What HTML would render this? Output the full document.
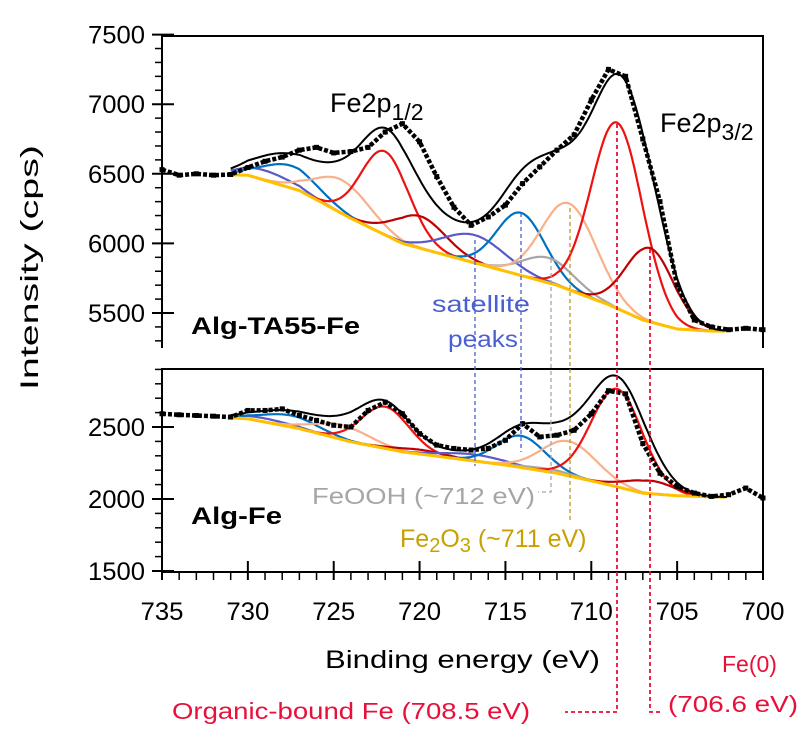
<!DOCTYPE html>
<html><head><meta charset="utf-8"><style>
html,body{margin:0;padding:0;background:#fff}
svg{display:block;font-family:"Liberation Sans",sans-serif}
</style></head><body>
<svg id="chart" width="807" height="744" viewBox="0 0 807 744" xmlns="http://www.w3.org/2000/svg"></svg>
<script>
// ---------- data ----------
const xTicks = [735,730,725,720,715,710,705,700];
const topYTicks = [5500,6000,6500,7000,7500];
const botYTicks = [1500,2000,2500];
const energies = [735,734,733,732,731,730,729,728,727,726,725,724,723,722,721,720,719,718,717,716,715,714,713,712,711,710,709,708,707,706,705,704,703,702,701,700];
const topData = [6530,6490,6500,6490,6495,6545,6590,6620,6670,6690,6650,6660,6690,6800,6860,6730,6480,6260,6130,6190,6275,6430,6550,6670,6780,7030,7250,7200,6750,6300,5700,5450,5400,5380,5390,5380];
const botData = [2592,2585,2580,2575,2569,2615,2615,2626,2580,2546,2512,2500,2615,2672,2592,2454,2374,2351,2340,2351,2408,2523,2431,2443,2477,2592,2752,2730,2385,2179,2087,2041,2018,2030,2076,2007];
const bgE = [735,730,727,724,721,718,715,712,709,707,705,703,700];
const topBg = [6500,6490,6380,6180,6000,5900,5800,5700,5560,5450,5385,5370,5370];
const botBg = [2590,2557,2489,2397,2328,2282,2236,2179,2099,2041,2023,2015,2007];
const compNames = ["sat-729","blue-727","peach-724","red-722","darkred-720","sat-716","blue-714","gray-712","peach-711","red-708","darkred-706"];
const compColors = ["#5a5ac8","#0070c0","#f8b08a","#ee1111","#c00000","#5a5ac8","#0070c0","#a6a6a6","#f8b08a","#ee1111","#c00000"];
const compCenters = [729,727.5,724.5,722,720,716.8,714.1,712.5,711.3,708.5,706.6];
const compSigmas = [1.6,1.6,1.6,1.4,1.5,1.8,1.4,1.5,1.6,1.5,1.4];
const topAmps = [70,160,240,600,230,200,450,180,620,1335,530];
const botAmps = [25,80,100,290,30,45,220,20,240,680,90];

const X0=162, X1=763;
const xs = e => X0 + (735-e)*(X1-X0)/35;
const topY = v => 313 - (v-5500)*(69.6/500);
const botY = v => 499 - (v-2000)*(72/500);
const svg = document.getElementById('chart');
const NS='http://www.w3.org/2000/svg';
function mk(tag, attrs, parent){const el=document.createElementNS(NS,tag);for(const k in attrs)el.setAttribute(k,attrs[k]);(parent||svg).appendChild(el);return el;}
function bgAt(bgVals,e){for(let i=0;i<bgE.length-1;i++){if(e<=bgE[i]&&e>=bgE[i+1]){const t=(bgE[i]-e)/(bgE[i]-bgE[i+1]);return bgVals[i]+t*(bgVals[i+1]-bgVals[i]);}}return bgVals[bgVals.length-1];}
function gauss(a,c,s,e){return a*Math.exp(-((e-c)*(e-c))/(2*s*s));}

function panel(bgVals, amps, data, Y, name, startE){
  const g = mk('g',{});
  
  
  for(let k=0;k<compCenters.length;k++){
    let d='';
    for(let e=startE;e>=703;e-=0.1){
      const v=bgAt(bgVals,e)+gauss(amps[k],compCenters[k],compSigmas[k],e);
      d+=(d?'L':'M')+xs(e).toFixed(1)+' '+Y(v).toFixed(1);
    }
    const p=mk('path',{d:d,fill:'none',stroke:compColors[k],'stroke-width':2.2},g);
    
    
  }
  let bd='';
  for(let e=731;e>=702;e-=0.2){bd+=(bd?'L':'M')+xs(e).toFixed(1)+' '+Y(bgAt(bgVals,e)).toFixed(1);}
  const bp=mk('path',{d:bd,fill:'none',stroke:'#ffc000','stroke-width':3},g);
  
  
  let ed='';
  for(let e=731;e>=702;e-=0.1){
    let v=bgAt(bgVals,e);
    for(let k=0;k<compCenters.length;k++)v+=gauss(amps[k],compCenters[k],compSigmas[k],e);
    ed+=(ed?'L':'M')+xs(e).toFixed(1)+' '+Y(v).toFixed(1);
  }
  const ep=mk('path',{d:ed,fill:'none',stroke:'#000','stroke-width':2},g);
  
  
  let dd='';
  energies.forEach((e,i)=>{dd+=(i?'L':'M')+xs(e).toFixed(1)+' '+Y(data[i]).toFixed(1);});
  const dp=mk('path',{d:dd,fill:'none',stroke:'#000','stroke-width':4.5,'stroke-dasharray':'4 2'},g);
  
  
  energies.forEach((e,i)=>{
    const r=mk('rect',{x:xs(e)-2.5,y:Y(data[i])-2.5,width:5,height:5,fill:'#000'},g);
    
    
  });
}

const axes = mk('g',{stroke:'#000','stroke-width':2,fill:'none'});


mk('path',{d:`M${X0} 348 L${X0} 36 L${X1} 36 L${X1} 348`},axes);
mk('path',{d:`M${X0} 572 L${X0} 369 L${X1} 369 L${X1} 572 M${X0} 572 L${X1} 572`},axes);
for(let v=5300; v<=7500; v+=100){
  const y=topY(v); const major=v%500===0;
  mk('line',{x1:major?152:155,x2:major?174:X0,y1:y,y2:y,'stroke-width':major?2:1.5},axes);
}
for(let v=1500; v<=2900; v+=100){
  const y=botY(v); const major=v%500===0;
  mk('line',{x1:major?152:155,x2:major?174:X0,y1:y,y2:y,'stroke-width':major?2:1.5},axes);
}
for(let e=735;e>=700;e--){
  const x=xs(e); const major=e%5===0;
  mk('line',{x1:x,x2:x,y1:major?561:572,y2:580,'stroke-width':major?2:1.5},axes);
}
const tl = mk('g',{'font-size':25,fill:'#000'});


topYTicks.forEach(v=>{const t=mk('text',{x:145,y:topY(v)+9,'text-anchor':'end',textLength:57,lengthAdjust:'spacingAndGlyphs'},tl);t.textContent=v;
  
  });
botYTicks.forEach(v=>{const t=mk('text',{x:145,y:botY(v)+9,'text-anchor':'end',textLength:57,lengthAdjust:'spacingAndGlyphs'},tl);t.textContent=v;
  
  });
xTicks.forEach(e=>{const t=mk('text',{x:xs(e),y:620,'text-anchor':'middle',textLength:43,lengthAdjust:'spacingAndGlyphs'},tl);t.textContent=e;
  
  });

panel(topBg, topAmps, topData, topY, 'top', 731);
panel(botBg, botAmps, botData, botY, 'bottom', 731);
</script>
<svg width="807" height="744" style="position:absolute;left:0;top:0">
  <g fill="none" stroke-width="1.3" stroke-dasharray="4 3">
    <path d="M475 240 V466" stroke="#4a5fd0"/>
    <path d="M521 213 V452" stroke="#4a5fd0"/>
    <path d="M551 259 V492 H538" stroke="#a6a6a6"/>
    <path d="M570 208 V522" stroke="#b89a20"/>
    <path d="M617 124 V712 H565" stroke="#e8103a" stroke-width="1.8"/>
    <path d="M650 249 V712 H663" stroke="#e8103a" stroke-width="1.8"/>
  </g>
  <text x="330" y="112" font-size="27">Fe2p<tspan font-size="23" dy="8">1/2</tspan></text>
  <text x="660" y="132" font-size="27">Fe2p<tspan font-size="23" dy="8">3/2</tspan></text>
  <text x="191" y="334" font-size="24" font-weight="bold" textLength="169" lengthAdjust="spacingAndGlyphs">Alg-TA55-Fe</text>
  <text x="432" y="312" font-size="23" fill="#4a5fd0" textLength="98" lengthAdjust="spacingAndGlyphs">satellite</text>
  <text x="448" y="347" font-size="23" fill="#4a5fd0" textLength="70" lengthAdjust="spacingAndGlyphs">peaks</text>
  <text x="191" y="524" font-size="24" font-weight="bold" textLength="91" lengthAdjust="spacingAndGlyphs">Alg-Fe</text>
  <text x="312" y="504" font-size="23" fill="#a6a6a6" textLength="223" lengthAdjust="spacingAndGlyphs">FeOOH (~712 eV)</text>
  <text x="400" y="547" font-size="25" fill="#c8a000">Fe<tspan font-size="20" dy="5">2</tspan><tspan dy="-5">O</tspan><tspan font-size="20" dy="5">3</tspan><tspan dy="-5"> (~711 eV)</tspan></text>
  <text x="325" y="668" font-size="25" textLength="275" lengthAdjust="spacingAndGlyphs">Binding energy (eV)</text>
  <text transform="translate(38,390) rotate(-90)" font-size="25" textLength="245" lengthAdjust="spacingAndGlyphs">Intensity (cps)</text>
  <text x="172" y="719" font-size="23" fill="#e8103a" textLength="358" lengthAdjust="spacingAndGlyphs">Organic-bound Fe (708.5 eV)</text>
  <text x="722" y="672" font-size="23" fill="#e8103a">Fe(0)</text>
  <text x="668" y="712" font-size="23" fill="#e8103a" textLength="130" lengthAdjust="spacingAndGlyphs">(706.6 eV)</text>
</svg>
</body></html>
